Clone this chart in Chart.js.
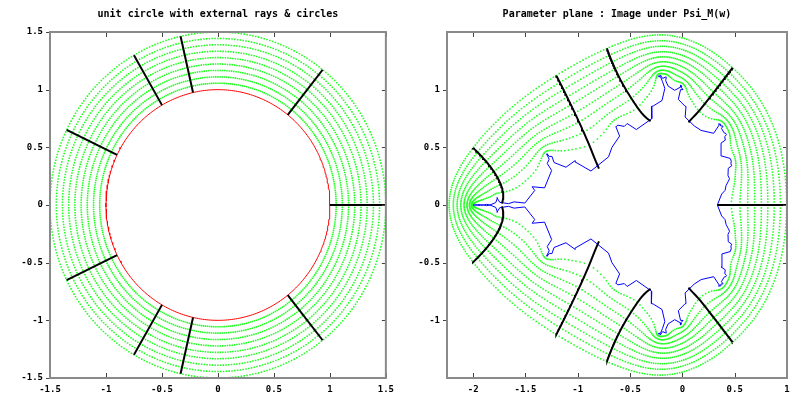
<!DOCTYPE html>
<html>
<head>
<meta charset="utf-8">
<script src="https://cdn.jsdelivr.net/npm/chart.js@4"></script>
<style>
body { margin: 0; background: #fff; width: 800px; height: 400px; overflow: hidden; }
.box { position: absolute; top: 0; width: 400px; height: 400px; }
</style>
</head>
<body>
<div class="box" style="left:0"><canvas id="circleChart" width="400" height="400"></canvas></div>
<div class="box" style="left:400px"><canvas id="paramChart" width="400" height="400"></canvas></div>
<script>
// radii of the green circles (9 rings between the unit circle and 1.5)
const circleRadii = [1.056, 1.111, 1.167, 1.222, 1.278, 1.333, 1.389, 1.444, 1.5];
// external angles of the black rays, in turns
const rayTurns = [0, 1/7, 2/7, 1/3, 3/7, 4/7, 2/3, 5/7, 6/7];
const rayRadii = [1, 1.5];
const samplesPerCircle = 360;
const samplesBoundary = 200;
const samplesPerRay = 50;
// number of Laurent terms of Psi_M used for the right plot
const psiTerms = 100;

const leftTicks = [-1.5, -1, -0.5, 0, 0.5, 1, 1.5];
const rightXTicks = [-2, -1.5, -1, -0.5, 0, 0.5, 1];
const rightYTicks = [-1, -0.5, 0, 0.5, 1];
const titles = ['unit circle with external rays & circles', 'Parameter plane : Image under Psi_M(w)'];

// coefficients b_m of Psi_M(w) = w + sum b_m w^-m  (Jungreis recursion)
function psiCoeffs(M) {
    let n = 1;
    while ((1 << n) < M + 3) n++;
    const L = M + 2;
    const p = new Float64Array(L); p[0] = 1;
    const f = [];
    for (let k = 1; k <= n; k++) f[k] = new Float64Array(L);
    const b = [];
    for (let j = 0; j < L; j++) {
        for (let k = 1; k <= n; k++) {
            if (k === 1) { f[1][j] = p[j]; continue; }
            const g = f[k - 1];
            let s = 0;
            for (let i = 0; i <= j; i++) s += g[i] * g[j - i];
            const off = (1 << (k - 1)) - 1;
            if (j - off >= 0) s += p[j - off];
            f[k][j] = s;
        }
        if (j >= 1) {
            const bm = -f[n][j] / (1 << (n - 1));
            p[j] = bm;
            b.push(bm);
            for (let k = 1; k <= n; k++) f[k][j] += (1 << (k - 1)) * bm;
        }
    }
    return b;
}
const coeffs = psiCoeffs(psiTerms);

function unitPoint(r, t) {
    const a = 2 * Math.PI * t;
    return { x: r * Math.cos(a), y: r * Math.sin(a) };
}
function psiPoint(r, t) {
    const a = 2 * Math.PI * t;
    let x = r * Math.cos(a), y = r * Math.sin(a);
    let rm = 1;
    for (let m = 0; m < coeffs.length; m++) {
        x += coeffs[m] * rm * Math.cos(m * a);
        y -= coeffs[m] * rm * Math.sin(m * a);
        rm /= r;
    }
    return { x, y };
}

function circlePts(map, r, n) {
    const pts = [];
    for (let i = 0; i <= n; i++) pts.push(map(r, i / n));
    return pts;
}
function rayPts(map, t, steps) {
    const pts = [];
    for (let i = 0; i <= steps; i++) pts.push(map(rayRadii[0] + (rayRadii[1] - rayRadii[0]) * i / steps, t));
    return pts;
}

function buildDatasets(map, boundaryColor, raySteps, boundarySteps) {
    const sets = [];
    rayTurns.forEach(t => sets.push({
        type: 'line', data: rayPts(map, t, raySteps), borderColor: '#000', borderWidth: 2,
        pointRadius: 0, fill: false, order: 0
    }));
    sets.push({
        type: 'line', data: circlePts(map, 1, boundarySteps), borderColor: boundaryColor, borderWidth: 1,
        pointRadius: 0, fill: false, order: 1
    });
    circleRadii.forEach(r => sets.push({
        type: 'scatter', data: circlePts(map, r, samplesPerCircle), backgroundColor: '#22ff22', borderWidth: 0,
        pointStyle: 'rect', pointRadius: 1.1, order: 2
    }));
    return sets;
}

const framePlugin = {
    id: 'frame',
    afterDatasetsDraw(chart, args, opts) {
        const { ctx, chartArea: a, scales: { x, y } } = chart;
        ctx.save();
        ctx.strokeStyle = '#444';
        ctx.lineWidth = 1;
        ctx.beginPath();
        x.ticks.forEach(tk => {
            const px = Math.round(x.getPixelForValue(tk.value)) + 0.5;
            ctx.moveTo(px, a.bottom); ctx.lineTo(px, a.bottom - 5);
            ctx.moveTo(px, a.top); ctx.lineTo(px, a.top + 5);
        });
        y.ticks.forEach(tk => {
            const py = Math.round(y.getPixelForValue(tk.value)) + 0.5;
            ctx.moveTo(a.left, py); ctx.lineTo(a.left - 4, py);
            ctx.moveTo(a.right, py); ctx.lineTo(a.right - 4, py);
        });
        ctx.stroke();
        ctx.strokeStyle = '#8a8a8a';
        ctx.lineWidth = 2;
        ctx.strokeRect(a.left, a.top, a.width, a.height);
        ctx.fillStyle = '#000';
        ctx.font = 'bold 10px "DejaVu Sans Mono"';
        ctx.textAlign = 'center';
        ctx.textBaseline = 'middle';
        ctx.fillText(opts.text, (a.left + a.right) / 2, 14);
        ctx.restore();
    }
};

function makeChart(id, datasets, xr, yr, xTicks, yTicks, leftW, padRight, title) {
    const tickFont = { family: 'DejaVu Sans Mono', size: 9, weight: 'bold' };
    return new Chart(document.getElementById(id), {
        type: 'scatter',
        data: { datasets },
        options: {
            responsive: false,
            animation: false,
            events: [],
            layout: { padding: { top: 32, right: padRight, bottom: 0, left: 0 } },
            plugins: { legend: { display: false }, tooltip: { enabled: false }, frame: { text: title } },
            scales: {
                x: {
                    type: 'linear', min: xr[0], max: xr[1],
                    grid: { display: false, drawTicks: false }, border: { display: false },
                    ticks: { font: tickFont, color: '#000', padding: 6, maxRotation: 0, callback: v => String(v) },
                    afterBuildTicks: s => { s.ticks = xTicks.map(v => ({ value: v })); },
                    afterFit: s => { s.height = 22; }
                },
                y: {
                    type: 'linear', min: yr[0], max: yr[1],
                    grid: { display: false, drawTicks: false }, border: { display: false },
                    ticks: { font: tickFont, color: '#000', padding: 7, callback: v => String(v) },
                    afterBuildTicks: s => { s.ticks = yTicks.map(v => ({ value: v })); },
                    afterFit: s => { s.width = leftW; }
                }
            }
        },
        plugins: [framePlugin]
    });
}

makeChart('circleChart', buildDatasets(unitPoint, '#ff0000', 1, samplesPerCircle), [-1.5, 1.5], [-1.5, 1.5],
    leftTicks, leftTicks, 50, 10, titles[0]);
makeChart('paramChart', buildDatasets(psiPoint, '#0000ff', samplesPerRay, samplesBoundary), [-2.25, 1], [-1.5, 1.5],
    rightXTicks, rightYTicks, 47, 13, titles[1]);
</script>
</body>
</html>
